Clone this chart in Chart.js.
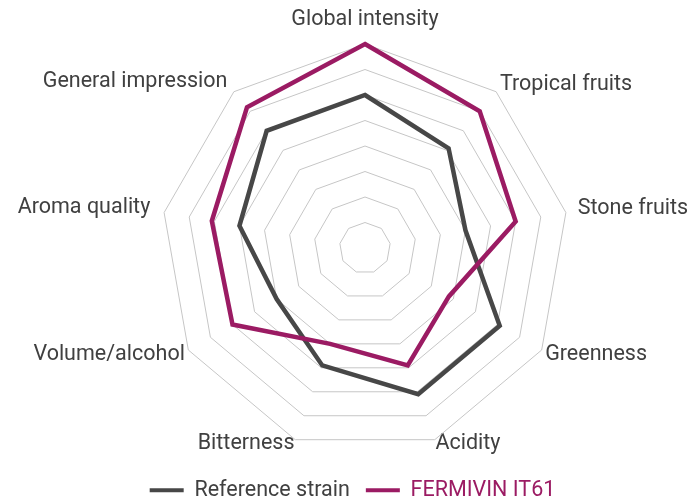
<!DOCTYPE html>
<html lang="en">
<head>
<meta charset="utf-8">
<title>Sensory profile</title>
<script src="https://cdn.jsdelivr.net/npm/chart.js@4.4.1/dist/chart.umd.min.js"></script>
<style>
  html, body { margin: 0; padding: 0; background: #fff; }
  .wrap { width: 691px; height: 497px; position: relative; }
</style>
</head>
<body>
<div class="wrap"><canvas id="profileChart"></canvas></div>
<script>
'use strict';

const ATTRIBUTES = ['Global intensity', 'Tropical fruits', 'Stone fruits', 'Greenness', 'Acidity',
                    'Bitterness', 'Volume/alcohol', 'Aroma quality', 'General impression'];
const REFERENCE  = [6, 5.1, 4, 6.1, 6.1, 4.9, 4, 5, 6];
const FERMIVIN   = [8, 7, 6, 3.8, 4.9, 4, 6, 6.1, 7.2];
const SCALE_MAX  = 8;

const TEXT    = '#404040';
const GREY    = '#474747';
const MAGENTA = '#9b1b63';
const FONT    = { family: 'Roboto', size: 21.5 };

// radar centre and outer ring radius, canvas px
const PLOT = { x: 365, y: 248, r: 204 };
// distance of each attribute label from the outer ring
const LABEL_GAP = [22, 6, 12, 4, 2, 2, 4, 14, 10];

// ── Chart ─────────────────────────────────────────────────────────
function initChart() {
  const ctx = document.getElementById('profileChart').getContext('2d');
  return new Chart(ctx, {
    type: 'radar',
    data: {
      labels: ATTRIBUTES,
      datasets: [
        { label: 'Reference strain', data: REFERENCE, borderColor: GREY,    backgroundColor: GREY,    order: 1 },
        { label: 'FERMIVIN IT61',    data: FERMIVIN,  borderColor: MAGENTA, backgroundColor: MAGENTA, order: 0 },
      ],
    },
    options: {
      responsive: true,
      maintainAspectRatio: false,
      animation: false,
      layout: { padding: { top: 0, left: 14, right: 0, bottom: -14 } },
      elements: {
        line: { borderWidth: 4.5, fill: false, tension: 0, borderJoinStyle: 'miter' },
        point: { radius: 0, hoverRadius: 0 },
      },
      scales: {
        r: {
          min: 0, max: SCALE_MAX,
          ticks: { stepSize: 1, display: false },
          grid: { color: '#c6c6c6', lineWidth: 1 },
          angleLines: { display: false },
          pointLabels: {
            color: TEXT,
            // tiny line height keeps each label centred on its anchor point
            font: { ...FONT, lineHeight: 0.2 },
            padding: c => LABEL_GAP[c.index],
          },
          afterSetDimensions: scale => {
            scale.xCenter = PLOT.x;
            scale.yCenter = PLOT.y;
            scale.drawingArea = PLOT.r;
          },
        },
      },
      plugins: {
        tooltip: { enabled: false },
        legend: {
          position: 'bottom',
          labels: {
            boxWidth: 34,
            boxHeight: 4,
            padding: 16,
            font: FONT,
            color: TEXT,
            generateLabels: chart => chart.data.datasets.map((ds, i) => ({
              text: ds.label,
              fillStyle: ds.borderColor,
              strokeStyle: ds.borderColor,
              lineWidth: 0,
              fontColor: i === 1 ? ds.borderColor : TEXT,
              datasetIndex: i,
              hidden: !chart.isDatasetVisible(i),
            })),
          },
        },
      },
    },
  });
}

document.addEventListener('DOMContentLoaded', initChart);
</script>
</body>
</html>
